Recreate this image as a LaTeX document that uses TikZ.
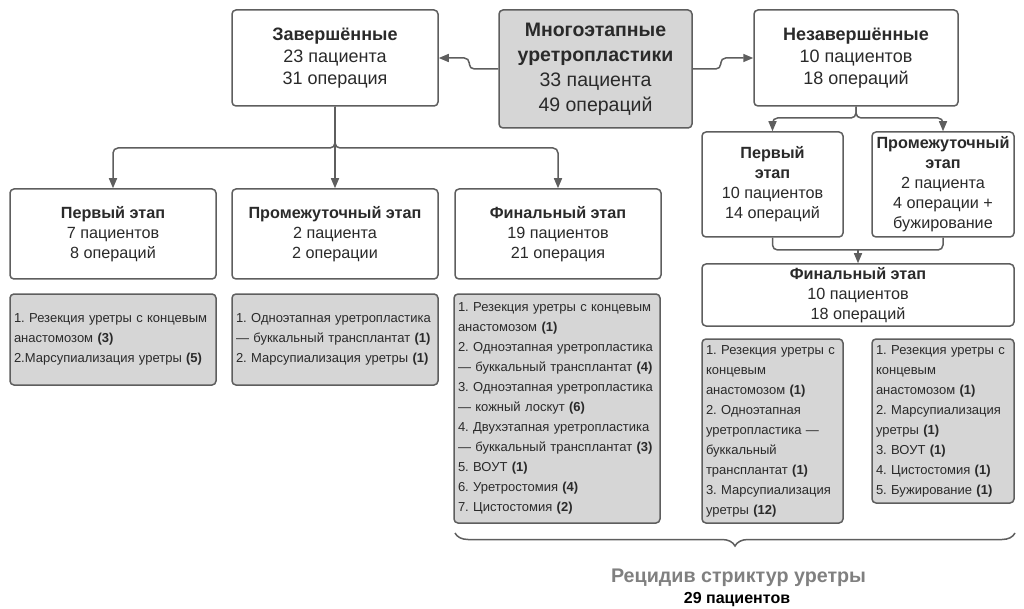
\documentclass[tikz,border=0pt]{standalone}
\usepackage{fontspec}
\setmainfont{Liberation Sans}
\usetikzlibrary{arrows.meta,decorations.pathreplacing}
\definecolor{edge}{HTML}{5E5E5E}
\definecolor{boxfill}{HTML}{D6D6D6}
\definecolor{txt}{HTML}{2A2A2A}
\definecolor{recid}{HTML}{808080}
\newcommand\fhead{\fontsize{18}{22}\selectfont}
\newcommand\fmain{\fontsize{19.5}{25}\selectfont}
\newcommand\fstage{\fontsize{16.2}{20}\selectfont}
\newcommand\flist{\fontsize{13}{20}\selectfont}
\frenchspacing

\begin{document}
\begin{tikzpicture}[x=1pt,y=1pt]
\tikzstyle{every node}+=[inner sep=0pt, text=txt]
\tikzstyle{box}=[draw=edge, line width=1.5pt, rounded corners=4pt, fill=white, align=center]
\tikzstyle{listbox}=[box, fill=boxfill, align=left, inner xsep=4pt, font=\flist]
\tikzstyle{link}=[draw=edge, line width=1.5pt, rounded corners=5pt]
\tikzstyle{conn}=[link, -{Triangle[length=10pt,width=8pt]}]
\useasboundingbox (0,0) rectangle (1024,-609);
\node [box, fill=boxfill, minimum width=193, minimum height=118, font=\fmain] (mnog) at (595.5,-69) {\textbf{Многоэтапные}\\\textbf{уретропластики}\\33 пациента\\49 операций};
\node [box, minimum width=206, minimum height=96, font=\fhead] (zav) at (335,-58) {\textbf{Завершённые}\\23 пациента\\31 операция};
\node [box, minimum width=204, minimum height=96, font=\fhead] (nez) at (856,-58) {\textbf{Незавершённые}\\10 пациентов\\18 операций};
\node [box, minimum width=206, minimum height=90, font=\fstage] (p1) at (113,-234) {\textbf{Первый этап}\\7 пациентов\\8 операций};
\node [box, minimum width=206, minimum height=90, font=\fstage] (pr1) at (335,-234) {\textbf{Промежуточный этап}\\2 пациента\\2 операции};
\node [box, minimum width=206, minimum height=90, font=\fstage] (fin1) at (558,-234) {\textbf{Финальный этап}\\19 пациентов\\21 операция};
\node [box, minimum width=141, minimum height=105, font=\fstage] (p2) at (772.5,-184.5) {\textbf{Первый}\\\textbf{этап}\\10 пациентов\\14 операций};
\node [box, minimum width=142, minimum height=105, font=\fstage] (pr2) at (943,-184.5) {\textbf{Промежуточный}\\\textbf{этап}\\2 пациента\\4 операции +\\бужирование};
\node [box, minimum width=312, minimum height=62, font=\fstage] (fin2) at (858,-295) {\textbf{Финальный этап}\\10 пациентов\\18 операций};
\node [listbox, text width=198, minimum height=91] (l1) at (113,-339.5) {1. Резекция уретры с концевым\\анастомозом \textbf{(3)}\\2.Марсупиализация уретры \textbf{(5)}};
\node [listbox, text width=198, minimum height=91] (l2) at (335,-339.5) {1. Одноэтапная уретропластика\\— буккальный трансплантат \textbf{(1)}\\2. Марсупиализация уретры \textbf{(1)}};
\node [listbox, text width=198, minimum height=229] (l3) at (557,-408.5) {1. Резекция уретры с концевым\\анастомозом \textbf{(1)}\\2. Одноэтапная уретропластика\\— буккальный трансплантат \textbf{(4)}\\3. Одноэтапная уретропластика\\— кожный лоскут \textbf{(6)}\\4. Двухэтапная уретропластика\\— буккальный трансплантат \textbf{(3)}\\5. ВОУТ \textbf{(1)}\\6. Уретростомия \textbf{(4)}\\7. Цистостомия \textbf{(2)}};
\node [listbox, text width=133, minimum height=184] (l4) at (772.5,-431) {1. Резекция уретры с\\концевым\\анастомозом \textbf{(1)}\\2. Одноэтапная\\уретропластика —\\буккальный\\трансплантат \textbf{(1)}\\3. Марсупиализация\\уретры \textbf{(12)}};
\node [listbox, text width=134, minimum height=164] (l5) at (943,-421) {1. Резекция уретры с\\концевым\\анастомозом \textbf{(1)}\\2. Марсупиализация\\уретры \textbf{(1)}\\3. ВОУТ \textbf{(1)}\\4. Цистостомия \textbf{(1)}\\5. Бужирование \textbf{(1)}};
\node [text=recid, font=\fontsize{19.7}{22}\selectfont\bfseries] (rec) at (738.5,-578) {Рецидив стриктур уретры};
\node [text=black, font=\fontsize{16}{18}\selectfont\bfseries] (npat) at (737,-600) {29 пациентов};
\coordinate (jl) at (335,-148);
\coordinate (jn) at (856,-118);
\coordinate (jr) at (858,-250);
\coordinate (bl) at (455,-533);
\coordinate (br) at (1015,-533);
\draw [conn] (mnog.west) -- ++(-29,0) |- (zav.east);
\draw [conn] (mnog.east) -- ++(28,0) |- (nez.west);
\draw [conn] (zav.south) -- (jl) -| (p1.north);
\draw [conn] (zav.south) -- (pr1.north);
\draw [conn] (zav.south) -- (jl) -| (fin1.north);
\draw [conn] (nez.south) -- (jn) -| (p2.north);
\draw [conn] (nez.south) -- (jn) -| (pr2.north);
\draw [link] (p2.south) |- (jr) -| (pr2.south);
\draw [conn] (jr) -- (fin2.north);
\draw [draw=edge, line width=1.5pt, decorate, decoration={brace, mirror, amplitude=13pt}] (bl) -- (br);
\end{tikzpicture}
\end{document}
